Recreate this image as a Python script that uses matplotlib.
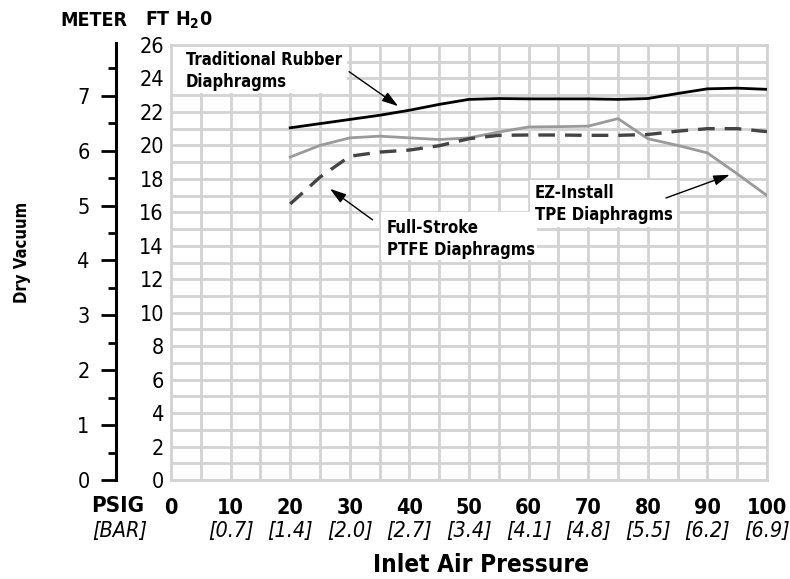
import matplotlib
matplotlib.use("Agg")
import matplotlib.pyplot as plt
from matplotlib.patches import Rectangle
import matplotlib.transforms as mtransforms

plt.rcParams['font.family'] = ['DejaVu Sans']
plt.rcParams['font.stretch'] = 'condensed'

psig = [20, 25, 30, 35, 40, 45, 50, 55, 60, 65, 70, 75, 80, 85, 90, 95, 100]
rubber = [21.05, 21.3, 21.55, 21.8, 22.1, 22.45, 22.75, 22.8, 22.78, 22.78, 22.78, 22.75, 22.8, 23.1, 23.38, 23.42, 23.35]
tpe = [19.3, 20.0, 20.45, 20.55, 20.45, 20.35, 20.45, 20.8, 21.1, 21.12, 21.15, 21.6, 20.4, 20.0, 19.55, 18.3, 17.0]
ptfe = [16.5, 18.1, 19.35, 19.6, 19.72, 19.98, 20.4, 20.6, 20.62, 20.62, 20.6, 20.6, 20.65, 20.85, 21.0, 21.0, 20.82]

xticks = [0, 10, 20, 30, 40, 50, 60, 70, 80, 90, 100]
bar_labels = ['', '[0.7]', '[1.4]', '[2.0]', '[2.7]', '[3.4]', '[4.1]', '[4.8]', '[5.5]', '[6.2]', '[6.9]']
ft_ticks = list(range(0, 27, 2))
meter_ticks = [0, 1, 2, 3, 4, 5, 6, 7]

W, H = 790, 579
fig = plt.figure(figsize=(W / 100, H / 100), dpi=100)
L, R, B, T = 171, 767, 480, 45
ax = fig.add_axes([L / W, 1 - B / H, (R - L) / W, (B - T) / H])
ax.set_xlim(0, 100)
ax.set_ylim(0, 26)
grid_c = '#d3d3d3'
ax.set_xticks(range(0, 101, 5), minor=True)
ax.set_yticks(range(0, 27, 1), minor=True)
ax.set_xticks(xticks)
ax.set_yticks(ft_ticks)
ax.grid(True, which='both', color=grid_c, lw=2)
ax.set_axisbelow(True)
for s in ax.spines.values():
    s.set_color(grid_c)
    s.set_linewidth(2)
ax.tick_params(which='both', length=0)
ax.tick_params(axis='y', labelsize=15.5, pad=5)
ax.tick_params(axis='x', labelsize=15.5, pad=13)
ax.set_xticklabels([str(v) for v in xticks], fontweight='bold')
ax.set_yticklabels([str(v) for v in ft_ticks])

trans = mtransforms.blended_transform_factory(ax.transData, fig.transFigure)
for v, lab in zip(xticks, bar_labels):
    if lab:
        ax.text(v, 1 - 531 / H, lab, transform=trans, ha='center', va='center',
                fontsize=15.5, fontstyle='italic')

# white label boxes
ax.add_patch(Rectangle((0.2, 23.15), 29.3, 2.8, facecolor='white', edgecolor='none', zorder=1))
ax.add_patch(Rectangle((35.2, 13.15), 26.2, 2.87, facecolor='white', edgecolor='none', zorder=1))
ax.add_patch(Rectangle((60.2, 15.12), 24.7, 2.81, facecolor='white', edgecolor='none', zorder=1))

ax.plot(psig, rubber, color='black', lw=2, zorder=3)
ax.plot(psig, tpe, color='#9a9a9a', lw=2, zorder=3)
ax.plot(psig, ptfe, color='#444444', lw=2.4, dashes=(5, 3), zorder=3)

tk = dict(fontsize=12, fontweight='bold', zorder=4, va='top', ha='left', linespacing=1.3)
ax.text(2.5, 25.65, 'Traditional Rubber\nDiaphragms', **tk)
ax.text(36.2, 15.6, 'Full-Stroke\nPTFE Diaphragms', **tk)
ax.text(61.0, 17.7, 'EZ-Install\nTPE Diaphragms', **tk)

ap = dict(arrowstyle='-|>,head_length=0.7,head_width=0.22', color='black', lw=1, mutation_scale=14)
ax.annotate('', xy=(38.5, 22.25), xytext=(29.5, 24.5), arrowprops=ap, zorder=4)
ax.annotate('', xy=(26.3, 17.5), xytext=(34.2, 15.45), arrowprops=ap, zorder=4)
ax.annotate('', xy=(94.2, 18.3), xytext=(82.6, 16.8), arrowprops=ap, zorder=4)

# meter axis
axm = fig.add_axes([116 / W, 1 - B / H, 0.0001, (B - 43) / H])
axm.set_ylim(0, (26 + 2 / 16.73) / 3.2808)
axm.set_xticks([])
for k in ['top', 'right', 'bottom']:
    axm.spines[k].set_visible(False)
axm.spines['left'].set_linewidth(2.2)
axm.set_yticks(meter_ticks)
axm.set_yticks([m + 0.5 for m in range(0, 8)], minor=True)
axm.tick_params(axis='y', which='major', length=11, width=2, labelsize=15.5, pad=8)
axm.tick_params(axis='y', which='minor', length=6, width=2)
axm.patch.set_visible(False)

fig.text(60 / W, 1 - 20 / H, 'METER', fontsize=14, fontweight='bold', va='center', ha='left')
fig.text(145 / W, 1 - 20 / H, 'FT H$_\\mathbf{2}$0', fontsize=14, fontweight='bold', va='center', ha='left')
fig.text(22 / W, 1 - 252 / H, 'Dry Vacuum', fontsize=12, fontweight='bold', rotation=90, va='center', ha='center')
fig.text(144 / W, 1 - 506 / H, 'PSIG', fontsize=16, fontweight='bold', va='center', ha='right')
fig.text(147 / W, 1 - 531 / H, '[BAR]', fontsize=15.5, fontstyle='italic', va='center', ha='right')
fig.text(481 / W, 1 - 565 / H, 'Inlet Air Pressure', fontsize=17.5, fontweight='bold', va='center', ha='center')

fig.savefig('out.png', dpi=100)
